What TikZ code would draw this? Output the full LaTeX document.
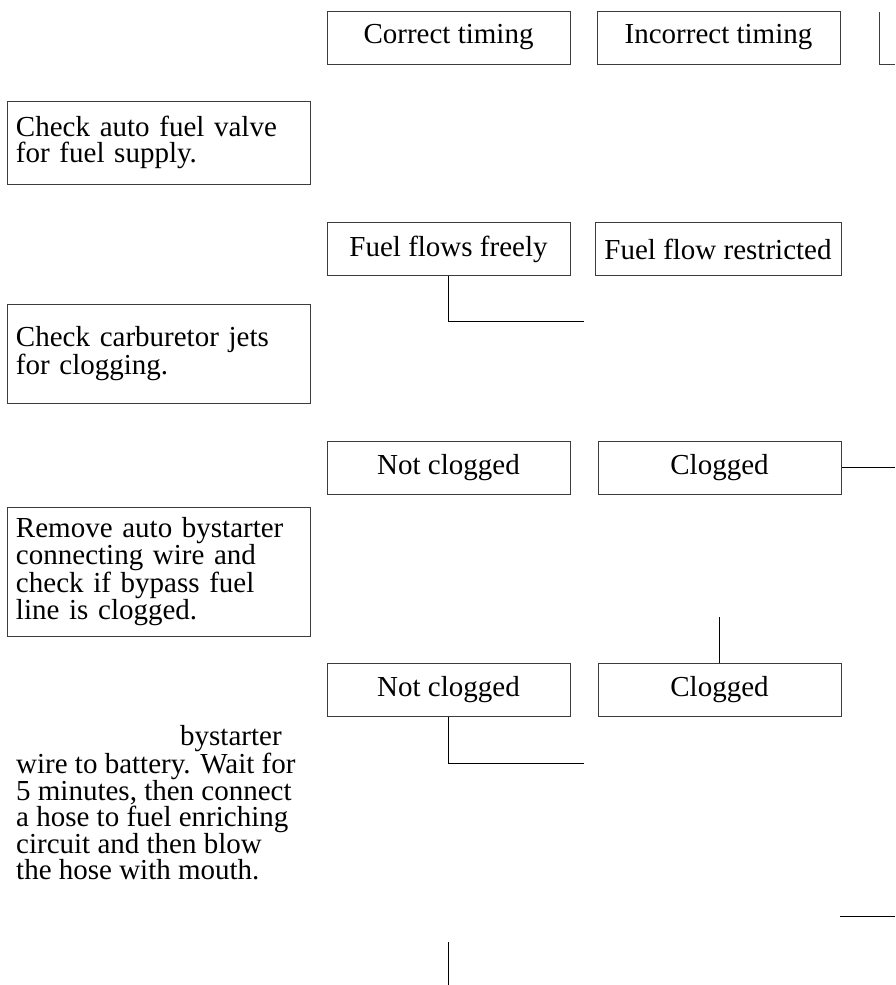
\documentclass[tikz,border=0pt]{standalone}
\usepackage{fontspec}
\setmainfont{Liberation Serif}
\usepackage{tikz}
\usetikzlibrary{positioning}
\definecolor{EdgeGray}{RGB}{60,60,60}

\begin{document}
\begin{tikzpicture}[x=1pt,y=-1pt,
        opt/.style={draw=EdgeGray,line width=1pt,minimum width=243pt,minimum height=53pt,
                    inner sep=0pt,font=\fontsize{29}{26}\selectfont},
        act/.style={draw=EdgeGray,line width=1pt,text width=285pt,inner xsep=9pt,inner ysep=0pt,
                    align=left,font=\fontsize{29}{26}\selectfont},
        link/.style={draw=black,line width=1pt}]
  \useasboundingbox (0,0) rectangle (895,985);
  \clip (0,0) rectangle (895,985);
  % answer boxes
  \node[opt] (ct) at (448.5,37.5) {Correct timing};
  \node[opt] (it) at (718.5,37.5) {Incorrect timing};
  \node[opt] (ff) at (448.5,249) {Fuel flows freely};
  \node[opt,minimum width=246pt] (fr) at (718,249) {Fuel flow restricted};
  \node[opt] (nc) at (448.5,467.5) {Not clogged};
  \node[opt] (cl) at (719.5,467.5) {Clogged};
  \node[opt] (nc2) at (448.5,689.5) {Not clogged};
  \node[opt] (cl2) at (719.5,689.5) {Clogged};
  % check boxes
  \node[act,minimum height=83pt] (fv) at (158.5,142.5)
    {Check auto fuel valve\\for fuel supply.};
  \node[act,minimum height=99pt] (cj) at (158.5,353.5)
    {Check carburetor jets\\for clogging.};
  \node[act,minimum height=129pt] (rb) at (158.5,571.5)
    {Remove auto bystarter\\connecting wire and\\check if bypass fuel\\line is clogged.};
  \node[anchor=north west,inner sep=0pt,align=left,font=\fontsize{29}{26}\selectfont] (ws) at (16,725)
    {\hspace*{164pt}bystarter\\wire to battery. Wait for\\5 minutes, then connect\\a hose to fuel enriching\\circuit and then blow\\the hose with mouth.};
  % connectors
  \coordinate (p1) at (879,12);
  \coordinate (p2) at (895,64);
  \draw[draw=EdgeGray,line width=1pt] (p1) |- (p2);
  \coordinate (j1) at (584,321);
  \draw[link] (ff.south) |- (j1);
  \coordinate (j2) at (895,467.5);
  \draw[link] (cl.east) -- (j2);
  \coordinate (j3) at (719.5,617);
  \draw[link] (j3) -- (cl2.north);
  \coordinate (j4) at (584,763);
  \draw[link] (nc2.south) |- (j4);
  \coordinate (j5) at (840,916);
  \coordinate (j6) at (895,916);
  \draw[link] (j5) -- (j6);
  \coordinate (j7) at (448,942);
  \coordinate (j8) at (448,985);
  \draw[link] (j7) -- (j8);
\end{tikzpicture}
\end{document}
